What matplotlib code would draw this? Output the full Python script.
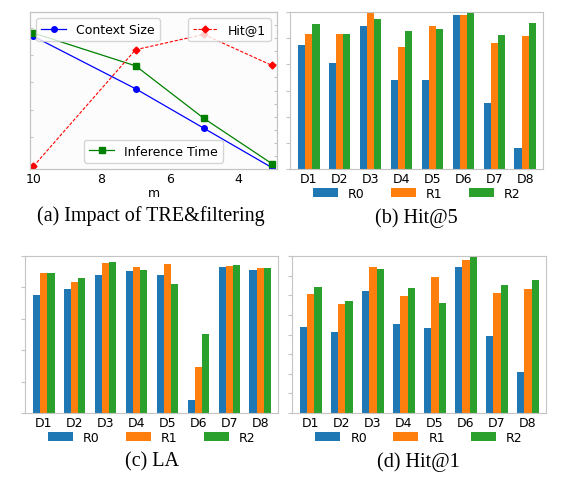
import matplotlib
matplotlib.use("Agg")
import matplotlib.pyplot as plt
import numpy as np

# ---------------- data ----------------
m_values = [10, 7, 5, 3]
context_size = [0.845, 0.511, 0.260, 0.009]
inference_time = [0.866, 0.657, 0.323, 0.034]
hit1_line = [0.017, 0.760, 0.857, 0.660]

datasets = ["D1", "D2", "D3", "D4", "D5", "D6", "D7", "D8"]
series_names = ["R0", "R1", "R2"]

hit5_r0 = [4.75, 4.07, 5.46, 3.41, 3.41, 5.89, 2.53, 0.79]
hit5_r1 = [5.16, 5.16, 5.95, 4.67, 5.48, 5.89, 4.83, 5.09]
hit5_r2 = [5.55, 5.16, 5.74, 5.27, 5.35, 6.02, 5.13, 5.58]

la_r0 = [3.77, 3.94, 4.39, 4.51, 4.40, 0.41, 4.66, 4.54]
la_r1 = [4.45, 4.17, 4.79, 4.65, 4.74, 1.48, 4.68, 4.63]
la_r2 = [4.47, 4.29, 4.82, 4.56, 4.11, 2.52, 4.72, 4.62]

hit1_r0 = [4.39, 4.12, 6.24, 4.53, 4.32, 7.44, 3.92, 2.08]
hit1_r1 = [6.05, 5.53, 7.46, 5.98, 6.93, 7.78, 6.14, 6.31]
hit1_r2 = [6.44, 5.71, 7.32, 6.39, 5.58, 8.02, 6.53, 6.76]

captions = ["(a) Impact of TRE&filtering", "(b) Hit@5", "(c) LA", "(d) Hit@1"]

# ---------------- layout ----------------
W, H = 581, 481
fig = plt.figure(figsize=(W / 100, H / 100), dpi=100)
FS = 9
SPINE = "#c4c4c4"


def rect(l, r, t, b):
    return [l / W, (H - b) / H, (r - l) / W, (b - t) / H]


def style(ax):
    for s in ax.spines.values():
        s.set_color(SPINE)
        s.set_linewidth(0.8)
    ax.tick_params(colors=SPINE, labelcolor="black", labelsize=FS)


# ---- (a) line chart ----
axa = fig.add_axes(rect(30, 277, 13, 170))
style(axa)
axa.set_facecolor("#fcfcfc")
l1, = axa.plot(m_values, context_size, "-o", color="blue", lw=0.9, ms=4, label="Context Size")
l2, = axa.plot(m_values, inference_time, "-s", color="green", lw=0.9, ms=4, label="Inference Time")
axa.set_ylim(0, 1)
axa.set_xlim(10.1, 2.85)
axa.set_xticks([10, 8, 6, 4])
axa.tick_params(axis="x", length=0, pad=2)
axa.set_yticks(np.linspace(0.03, 0.9, 6))
axa.tick_params(axis="y", direction="in", length=2, labelleft=False)
axa.set_xlabel("m", fontsize=FS, labelpad=1)
axb2 = axa.twinx()
for s in axb2.spines.values():
    s.set_color(SPINE)
    s.set_linewidth(0.8)
l3, = axb2.plot(m_values, hit1_line, "--D", color="red", lw=0.8, ms=3.5,
                dashes=(3, 1.5), label="Hit@1")
axb2.set_ylim(0, 1)
axb2.set_yticks(np.linspace(0.0, 1.0, 13))
axb2.tick_params(axis="y", direction="in", length=2, colors=SPINE, labelright=False)
leg1 = axb2.legend(handles=[l1], loc="upper left", fontsize=FS)
axb2.add_artist(leg1)
leg2 = axb2.legend(handles=[l2], loc="lower center", fontsize=FS)
axb2.add_artist(leg2)
axb2.legend(handles=[l3], loc="upper right", fontsize=FS)

# ---- bar charts ----
colors = ["#1f77b4", "#ff7f0e", "#2ca02c"]
bw = 0.23


def bars(rc, vals, ymax, nticks):
    ax = fig.add_axes(rect(*rc))
    style(ax)
    x = np.arange(len(datasets))
    for i, (v, c, n) in enumerate(zip(vals, colors, series_names)):
        ax.bar(x + (i - 1) * bw, v, bw, color=c, label=n)
    ax.set_xticks(x)
    ax.set_xticklabels(datasets)
    ax.set_xlim(-0.61, 7.58)
    ax.set_ylim(0, ymax)
    ax.set_yticks(np.linspace(0, ymax, nticks))
    ax.tick_params(axis="y", length=3, labelleft=False)
    ax.tick_params(axis="x", length=0, pad=2)
    ax.legend(loc="upper center", bbox_to_anchor=(0.5, -0.04), ncol=3,
              frameon=False, fontsize=FS, columnspacing=2.1, handletextpad=0.8)
    return ax


bars((290, 543, 13, 170), [hit5_r0, hit5_r1, hit5_r2], 6.0, 7)
bars((25, 278, 257, 414), [la_r0, la_r1, la_r2], 5.0, 6)
bars((292, 546, 257, 414), [hit1_r0, hit1_r1, hit1_r2], 8.0, 9)

cap_pos = [(151, 216), (416, 218), (152, 462), (418, 462)]
for (cx, cy), t in zip(cap_pos, captions):
    fig.text(cx / W, 1 - cy / H, t, ha="center", va="center",
             fontsize=14.5, family="Liberation Serif")

fig.savefig("out.png", dpi=100)
